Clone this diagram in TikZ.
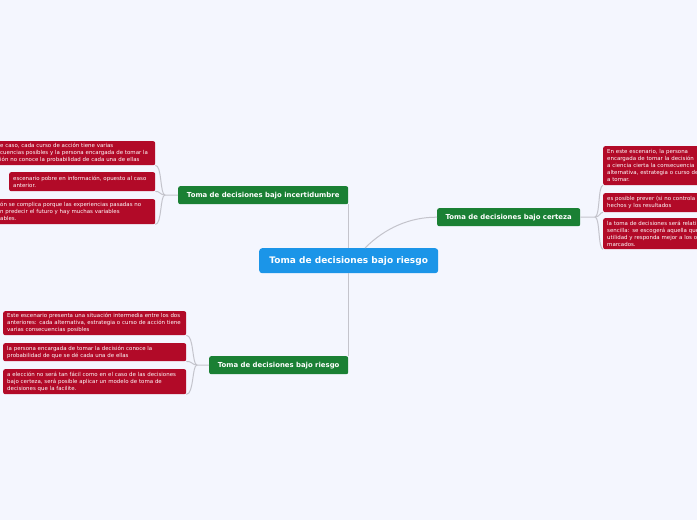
\documentclass[tikz,border=0pt]{standalone}
\usepackage{fontspec}
\setmainfont{DejaVu Sans}
\usetikzlibrary{calc}
\definecolor{bgc}{RGB}{244,246,254}
\definecolor{leafred}{RGB}{178,10,40}
\definecolor{midgreen}{RGB}{26,128,52}
\definecolor{rootblue}{RGB}{27,149,232}
\definecolor{linkgray}{RGB}{196,196,204}
\tikzset{
  leaf/.style={fill=leafred, rounded corners=2pt, text=white, anchor=north west,
    inner xsep=4pt, inner ysep=0pt, align=left, font=\fontsize{5.45}{7}\selectfont},
  mid/.style={fill=midgreen, rounded corners=2pt, text=white, anchor=north west,
    inner sep=0pt, font=\fontsize{6.9}{8}\selectfont\bfseries},
  root/.style={fill=rootblue, rounded corners=3pt, text=white, anchor=north west,
    inner sep=0pt, font=\fontsize{9}{10}\selectfont\bfseries},
  link/.style={draw=linkgray, line width=1pt},
}
\begin{document}
\begin{tikzpicture}[x=1pt,y=-1pt]
\fill[bgc] (0,0) rectangle (697,520);
\useasboundingbox (0,0) rectangle (697,520);

% root
\node[root, minimum width=179pt, minimum height=25pt] (root) at (259,248) {Toma de decisiones bajo riesgo};

% main branches
\node[mid, minimum width=170pt, minimum height=18pt] (inc) at (178,186) {Toma de decisiones bajo incertidumbre};
\node[mid, minimum width=143pt, minimum height=18pt] (cer) at (437,208) {Toma de decisiones bajo certeza};
\node[mid, minimum width=139pt, minimum height=18pt] (rie) at (209,356) {Toma de decisiones bajo riesgo};

% incertidumbre leaves
\node[leaf, text width=151pt, minimum height=24pt] (i1) at (-4,141)
  {e caso, cada curso de acción tiene varias\\cuencias posibles y la persona encargada de tomar la\\ión no conoce la probabilidad de cada una de ellas};
\node[leaf, text width=138pt, minimum height=19pt] (i2) at (9,172)
  {escenario pobre en información, opuesto al caso\\anterior.};
\node[leaf, text width=151pt, minimum height=25pt] (i3) at (-4,199)
  {ón se complica porque las experiencias pasadas no\\n predecir el futuro y hay muchas variables\\ables.};

% certeza leaves
\node[leaf, text width=120pt, minimum height=39pt] (c1) at (603,146)
  {En este escenario, la persona\\encargada de tomar la decisión\\a ciencia cierta la consecuencia\\alternativa, estrategia o curso de\\a tomar.};
\node[leaf, text width=120pt, minimum height=19pt] (c2) at (603,193)
  {es posible prever (si no controla\\hechos y los resultados};
\node[leaf, text width=120pt, minimum height=31pt] (c3) at (603,218)
  {la toma de decisiones será relati\\sencilla: se escogerá aquella que\\utilidad y responda mejor a los o\\marcados.};

% riesgo leaves
\node[leaf, text width=175pt, minimum height=24pt] (r1) at (3,311)
  {Este escenario presenta una situación intermedia entre los dos\\anteriores: cada alternativa, estrategia o curso de acción tiene\\varias consecuencias posibles};
\node[leaf, text width=175pt, minimum height=18pt] (r2) at (3,343)
  {la persona encargada de tomar la decisión conoce la\\probabilidad de que se dé cada una de ellas};
\node[leaf, text width=175pt, minimum height=25pt] (r3) at (3,369)
  {a elección no será tan fácil como en el caso de las decisiones\\bajo certeza, será posible aplicar un modelo de toma de\\decisiones que la facilite.};

% junctions
\coordinate (ji) at (165,195);
\coordinate (jc) at (595,217);
\coordinate (jr) at (197,365);
\coordinate (rc) at (365,248);

% root links
\draw[link] (inc.south east) -- (inc.south east |- root.north);
\draw[link] (rie.north east) -- (rie.north east |- root.south);
\draw[link] (rc) .. controls (385,228) and (410,217) .. (cer.west);

% incertidumbre links
\draw[link] (inc.west) -- (ji);
\draw[link] (ji) .. controls (160,195) and (162,165) .. (i1.south east);
\draw[link] (ji) .. controls (160,195) and (160,191) .. (i2.south east);
\draw[link] (ji) .. controls (160,195) and (162,224) .. (i3.south east);

% certeza links
\draw[link] (cer.east) -- (jc);
\draw[link] (jc) .. controls (600,217) and (598,185) .. (c1.south west);
\draw[link] (jc) .. controls (600,217) and (600,212) .. (c2.south west);
\draw[link] (jc) .. controls (600,217) and (598,249) .. (c3.south west);

% riesgo links
\draw[link] (rie.west) -- (jr);
\draw[link] (jr) .. controls (192,365) and (194,335) .. (r1.south east);
\draw[link] (jr) .. controls (192,365) and (192,361) .. (r2.south east);
\draw[link] (jr) .. controls (192,365) and (194,394) .. (r3.south east);
\end{tikzpicture}
\end{document}
